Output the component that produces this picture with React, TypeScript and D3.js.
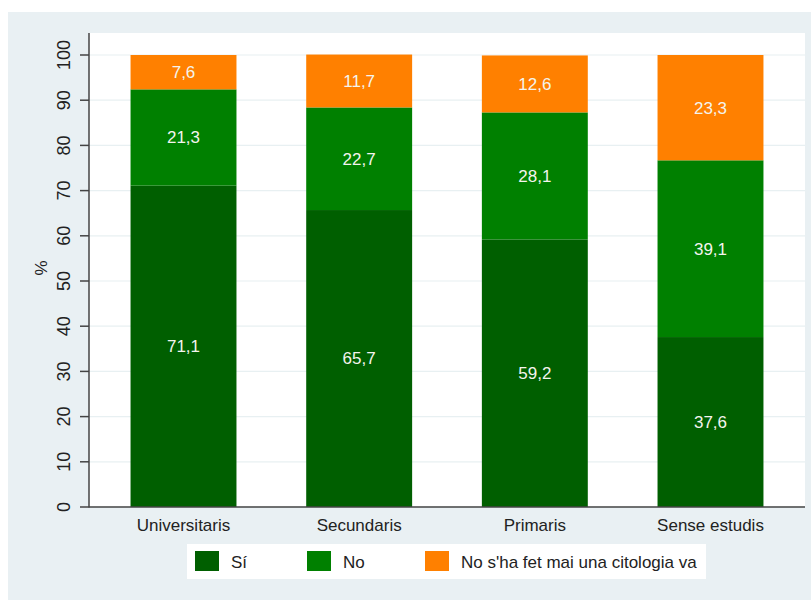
import React from "react";
import * as d3 from "d3";

const categories = ["Universitaris", "Secundaris", "Primaris", "Sense estudis"];
const si = [71.1, 65.7, 59.2, 37.6];
const no = [21.3, 22.7, 28.1, 39.1];
const mai = [7.6, 11.7, 12.6, 23.3];
const seriesNames = ["Sí", "No", "No s'ha fet mai una citologia va"];
const seriesColors = ["#005f00", "#008000", "#ff8000"];
const yTicks = [0, 10, 20, 30, 40, 50, 60, 70, 80, 90, 100];

const W = 811;
const H = 600;
const plotL = 89;
const plotR = 805;
const plotT = 33;
const plotB = 507;

export default function App() {
  const data = categories.map((c, i) => ({ cat: c, s0: si[i], s1: no[i], s2: mai[i] }));
  const stack = d3.stack<any>().keys(["s0", "s1", "s2"]);
  const layers = stack(data);
  const x = d3
    .scaleBand<string>()
    .domain(categories)
    .range([plotL, plotR])
    .paddingInner(0.397)
    .paddingOuter(0.2365);
  const y = d3.scaleLinear().domain([0, 100]).range([plotB, 55]);
  const font = "Arial, 'Liberation Sans', sans-serif";
  const fmt = (v: number) => v.toFixed(1).replace(".", ",");

  const legendItems = [
    { sx: 195, tx: 231 },
    { sx: 307, tx: 343 },
    { sx: 425, tx: 461 },
  ];

  return (
    <svg
      width={W}
      height={H}
      style={{ position: "absolute", left: 0, top: 0 }}
      fontFamily={font}
    >
      <rect x={0} y={0} width={W} height={H} fill="#ffffff" />
      <rect x={8} y={12} width={W - 8} height={H - 12} fill="#e9f0f3" />
      <rect x={plotL} y={plotT} width={plotR - plotL} height={plotB - plotT} fill="#ffffff" />
      {yTicks.map((t) => (
        <line
          key={"g" + t}
          x1={plotL}
          x2={plotR}
          y1={y(t)}
          y2={y(t)}
          stroke="#e8f0f2"
          strokeWidth={1.2}
        />
      ))}
      {layers.map((layer, li) =>
        layer.map((d, i) => (
          <g key={li + "-" + i}>
            <rect
              x={x(categories[i])}
              y={y(d[1])}
              width={x.bandwidth()}
              height={y(d[0]) - y(d[1])}
              fill={seriesColors[li]}
            />
            <text
              x={(x(categories[i]) as number) + x.bandwidth() / 2}
              y={y((d[0] + d[1]) / 2)}
              dy="0.35em"
              textAnchor="middle"
              fontSize={17}
              fill="#f4f4ee"
            >
              {fmt(d[1] - d[0])}
            </text>
          </g>
        ))
      )}
      <line x1={plotL} x2={plotL} y1={plotT} y2={plotB + 0.5} stroke="#444" strokeWidth={1.5} />
      <line x1={plotL} x2={plotR} y1={plotB} y2={plotB} stroke="#444" strokeWidth={1.5} />
      {yTicks.map((t) => (
        <g key={"t" + t}>
          <line x1={80} x2={plotL} y1={y(t)} y2={y(t)} stroke="#444" strokeWidth={1.5} />
          <text
            transform={`translate(${64},${y(t)}) rotate(-90)`}
            textAnchor="middle"
            dy="0.35em"
            fontSize={18}
            fill="#222"
          >
            {t}
          </text>
        </g>
      ))}
      <text
        transform={`translate(${41},${268}) rotate(-90)`}
        textAnchor="middle"
        dy="0.35em"
        fontSize={17}
        fill="#222"
      >
        %
      </text>
      {categories.map((c) => (
        <text
          key={c}
          x={(x(c) as number) + x.bandwidth() / 2}
          y={531}
          textAnchor="middle"
          fontSize={17}
          fill="#222"
        >
          {c}
        </text>
      ))}
      <rect x={187} y={544} width={706 - 187} height={35} fill="#ffffff" />
      {legendItems.map((l, i) => (
        <g key={"l" + i}>
          <rect x={l.sx} y={551} width={24} height={20} fill={seriesColors[i]} />
          <text x={l.tx} y={562} dy="0.35em" fontSize={17} fill="#222">
            {seriesNames[i]}
          </text>
        </g>
      ))}
    </svg>
  );
}
